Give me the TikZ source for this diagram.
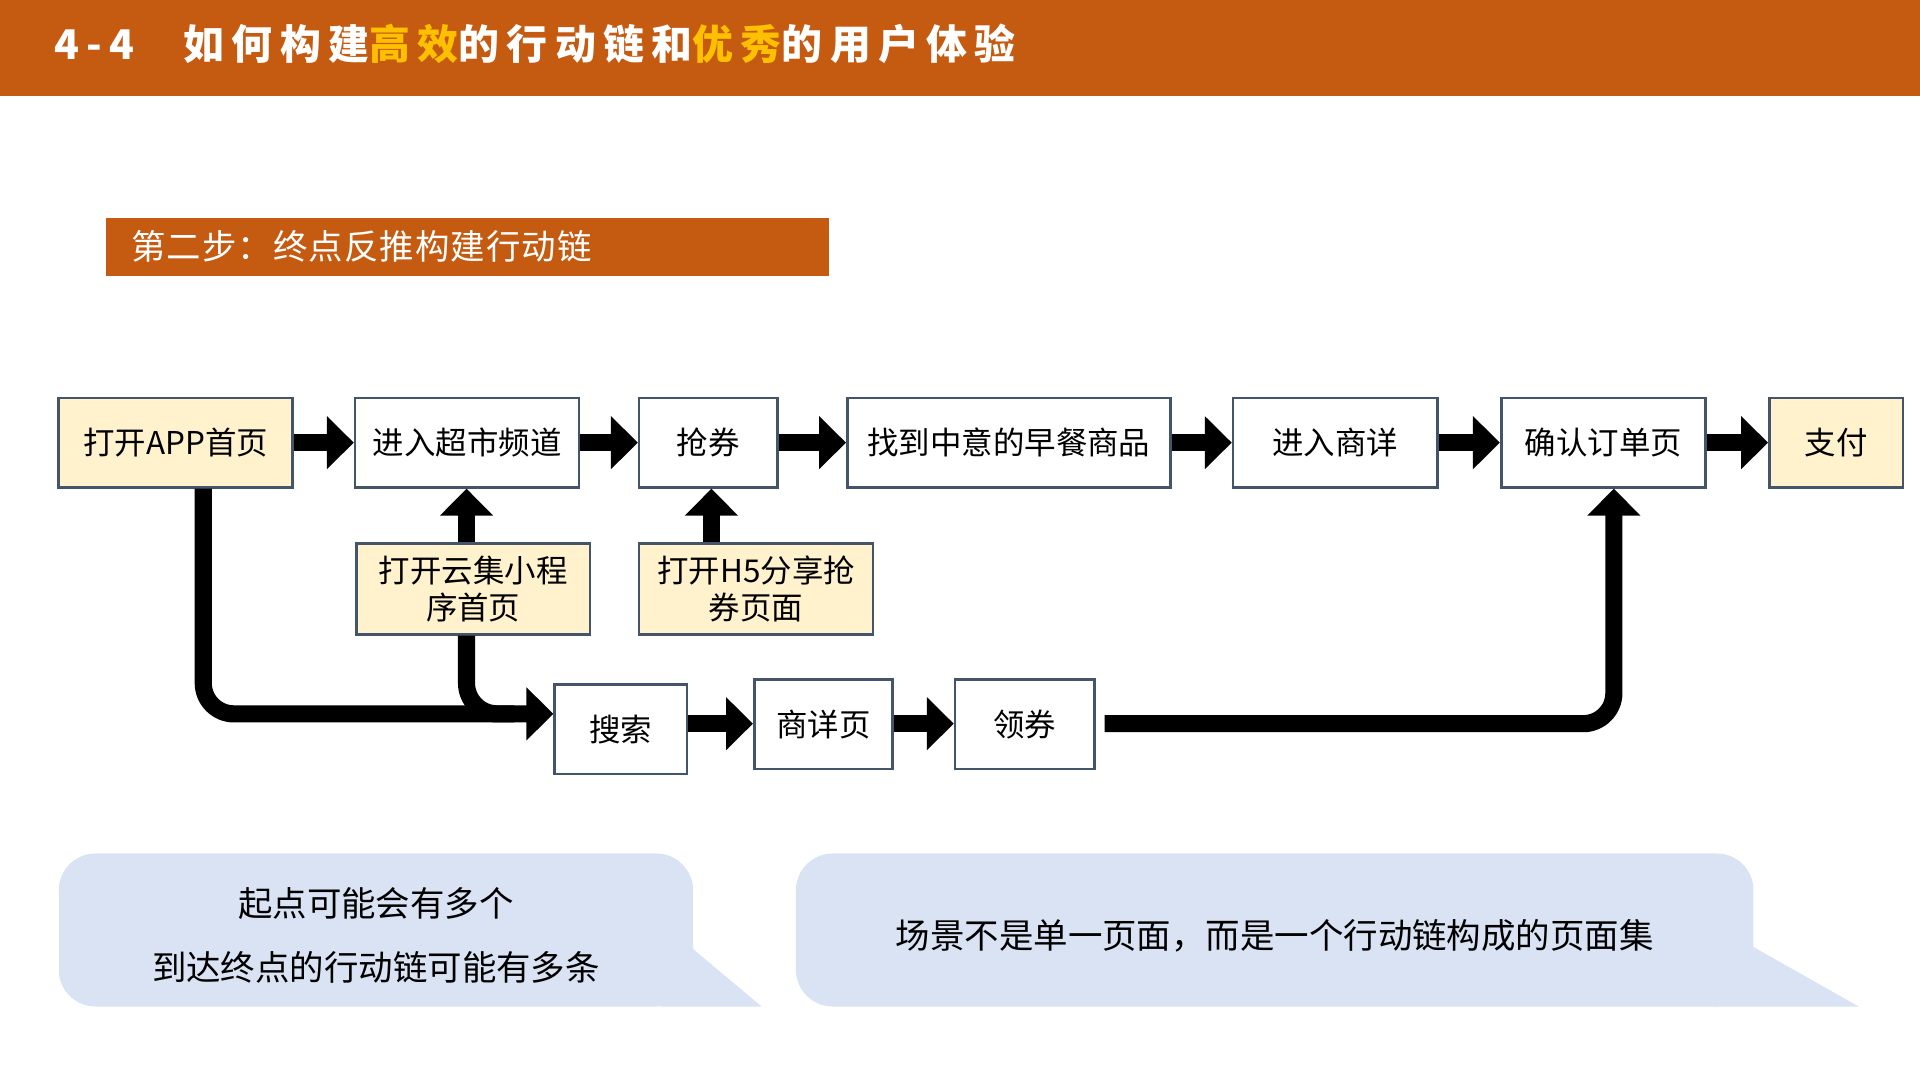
\documentclass[tikz,border=0pt]{standalone}
\usepackage{fontspec}
\setmainfont{Noto Sans CJK SC}
\usetikzlibrary{arrows.meta}
\definecolor{org}{HTML}{C55A11}
\definecolor{gold}{HTML}{FFC000}
\definecolor{cream}{HTML}{FFF2CC}
\definecolor{bdr}{HTML}{44546A}
\definecolor{bub}{HTML}{DAE3F3}
\begin{document}
\begin{tikzpicture}[x=0.01cm,y=-0.01cm,
 box/.style={draw=bdr,line width=0.6pt,fill=white,inner sep=0,font=\fontsize{7.3}{8.7}\selectfont,align=center},
 yb/.style={box,fill=cream},
 fat/.style={line width=0.14cm,-{Triangle[width=0.42cm,length=0.22cm]},rounded corners=0.25cm}]
\useasboundingbox (0,0) rectangle (1568,882);
\fill[org] (0,0) rectangle (1568,78);
\node[anchor=west,text=white,font=\fontsize{9.5}{11}\selectfont\bfseries\addfontfeature{LetterSpace=18}] (title) at (32,36) {4-4\hspace{1.2em}如何构建\textcolor{gold}{高效}的行动链和\textcolor{gold}{优秀}的用户体验};
\node[fill=org,minimum width=5.9cm,minimum height=0.47cm,inner sep=0] (sub) at (382,201.5) {};
\node[anchor=west,text=white,font=\fontsize{8}{9}\selectfont\addfontfeature{LetterSpace=3}] (subt) at (95,201.5) {第二步：终点反推构建行动链};
\def\bx#1#2#3#4#5#6#7{\node[#2,minimum width=#5*0.01cm-#3*0.01cm,minimum height=#6*0.01cm-#4*0.01cm] (#1) at ({(#3+#5)/2},{(#4+#6)/2}) {#7};}
\bx{app}{yb}{48}{325}{239}{398}{打开APP首页}
\bx{cs}{box}{290}{325}{473}{398}{进入超市频道}
\bx{qq}{box}{522}{325}{635}{398}{抢券}
\bx{zd}{box}{692}{325}{956}{398}{找到中意的早餐商品}
\bx{sx}{box}{1007}{325}{1174}{398}{进入商详}
\bx{qr}{box}{1226}{325}{1393}{398}{确认订单页}
\bx{zf}{yb}{1445}{325}{1554}{398}{支付}
\bx{yj}{yb}{291}{444}{482}{518}{打开云集小程\\序首页}
\bx{h5}{yb}{522}{444}{713}{518}{打开H5分享抢\\券页面}
\bx{ss}{box}{453}{559}{561}{632}{搜索}
\bx{sxy}{box}{616}{555}{729}{628}{商详页}
\bx{lq}{box}{780}{555}{894}{628}{领券}
\foreach \a/\b in {app/cs,cs/qq,qq/zd,zd/sx,sx/qr,qr/zf} \draw[fat] (\a.east) -- (\b.west);
\draw[fat] (ss.east|-0,591) -- (sxy.west|-0,591);
\draw[fat] (sxy.east|-0,591) -- (lq.west|-0,591);
\draw[fat] (yj.north-|381,0) -- (cs.south-|381,0);
\draw[fat] (h5.north-|581,0) -- (qq.south-|581,0);
\draw[fat] (app.south-|166,0) -- (166,583) -- (ss.west|-0,583);
\draw[line width=0.14cm,rounded corners=0.25cm] (yj.south-|381,0) -- (381,583) -- (420,583);
\draw[fat] (lq.east|-0,591) ++(7,0) -- (1318,591) -- (qr.south-|1318,0);
\fill[bub,rounded corners=0.3cm] (48,697) rectangle (566,822);
\fill[bub] (560,770) -- (622,822) -- (540,822) -- cycle;
\node[font=\fontsize{8}{15}\selectfont,align=center] (t1) at (307,764) {起点可能会有多个\\到达终点的行动链可能有多条};
\fill[bub,rounded corners=0.3cm] (650,697) rectangle (1432,822);
\fill[bub] (1426,770) -- (1518,822) -- (1400,822) -- cycle;
\node[font=\fontsize{8}{9}\selectfont] (t2) at (1041,764) {场景不是单一页面，而是一个行动链构成的页面集};
\end{tikzpicture}
\end{document}
